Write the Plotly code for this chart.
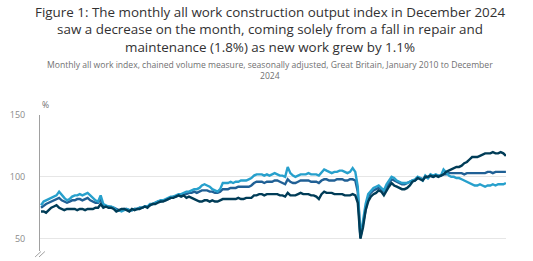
import pandas as pd
import plotly.graph_objects as go

months = pd.date_range("2010-01-01", "2024-12-01", freq="MS")

new_work = [
    77, 80, 81, 82, 83, 84, 85, 88, 85, 83, 81, 82,          # 2010
    84, 85, 85, 86, 85, 86, 87, 85, 83, 81, 80, 85,          # 2011
    78, 77, 76, 76, 75, 73, 73, 72, 73, 74, 73, 73,          # 2012
    74, 74, 75, 75, 76, 76, 78, 78, 79, 80, 81, 81,          # 2013
    82, 83, 84, 84, 85, 86, 86, 87, 88, 88, 89, 90,          # 2014
    90, 91, 93, 94, 93, 92, 90, 89, 88, 90, 95, 95,          # 2015
    95, 96, 95, 96, 96, 97, 97, 97, 98, 99, 101, 102,        # 2016
    102, 102, 101, 102, 101, 102, 103, 102, 101, 101, 100, 108,  # 2017
    103, 101, 100, 101, 102, 102, 102, 103, 102, 102, 102, 101,  # 2018
    104, 106, 105, 104, 103, 104, 104, 105, 105, 104, 103, 104,  # 2019
    107, 104, 92, 51, 64, 78, 86, 89, 91, 92, 93, 91,        # 2020
    89, 94, 97, 100, 99, 97, 96, 95, 95, 95, 96, 97,         # 2021
    98, 100, 99, 97, 101, 99, 102, 101, 102, 101, 101, 106,  # 2022
    103, 101, 100, 100, 99, 99, 98, 97, 96, 95, 94, 93,      # 2023
    93, 94, 93, 92, 93, 93, 94, 93, 94, 94, 94, 95,          # 2024
]

all_work = [
    75, 77, 78, 79, 80, 81, 82, 83, 81, 80, 79, 80,
    81, 81, 82, 82, 81, 82, 83, 81, 80, 79, 79, 82,
    77, 76, 76, 75, 75, 74, 73, 73, 74, 74, 73, 73,
    74, 74, 75, 75, 76, 76, 77, 78, 79, 80, 80, 81,
    81, 82, 83, 84, 84, 85, 85, 86, 86, 87, 87, 88,
    87, 88, 89, 89, 89, 88, 88, 87, 87, 88, 90, 90,
    90, 91, 91, 91, 92, 92, 92, 92, 92, 93, 95, 96,
    96, 96, 95, 96, 96, 96, 97, 97, 96, 95, 94, 98,
    96, 95, 95, 96, 97, 97, 97, 97, 96, 96, 96, 95,
    97, 98, 98, 97, 97, 97, 98, 98, 98, 97, 97, 98,
    98, 97, 88, 51, 62, 76, 84, 87, 89, 90, 91, 90,
    88, 92, 95, 98, 97, 96, 95, 94, 94, 95, 96, 97,
    97, 99, 99, 98, 100, 99, 101, 100, 101, 101, 101, 102,
    102, 103, 103, 103, 103, 103, 103, 102, 103, 103, 103, 103,
    103, 103, 103, 103, 104, 104, 103, 104, 104, 104, 104, 104,
]

repair_maintenance = [
    72, 72, 71, 73, 75, 76, 77, 75, 74, 73, 74, 74,
    74, 74, 73, 74, 74, 73, 74, 74, 74, 75, 75, 78,
    75, 76, 75, 75, 74, 72, 73, 74, 74, 73, 72, 74,
    73, 74, 74, 75, 76, 75, 77, 78, 78, 79, 80, 80,
    81, 82, 83, 83, 84, 85, 84, 85, 83, 84, 83, 82,
    81, 80, 80, 81, 81, 80, 81, 80, 80, 81, 82, 82,
    82, 82, 82, 82, 83, 82, 82, 83, 83, 83, 85, 85,
    86, 86, 85, 86, 86, 86, 86, 86, 85, 85, 84, 87,
    85, 85, 85, 86, 87, 86, 86, 86, 85, 85, 84, 82,
    86, 88, 87, 87, 87, 86, 86, 86, 86, 85, 85, 85,
    86, 85, 79, 50, 59, 73, 80, 84, 86, 87, 89, 88,
    85, 89, 92, 95, 93, 92, 91, 90, 90, 91, 93, 96,
    97, 99, 98, 97, 100, 100, 101, 100, 101, 100, 101, 102,
    104, 105, 106, 107, 108, 108, 109, 111, 112, 114, 116, 116,
    116, 117, 118, 119, 119, 119, 120, 119, 119, 120, 119, 117,
]

y_ticks = [50, 100, 150]

series = [
    ("All work", all_work, "#206095"),
    ("New work", new_work, "#27a0cc"),
    ("Repair and maintenance", repair_maintenance, "#003c57"),
]

PLOT_H = 136.4
PLOT_W = 473

fig = go.Figure()
for name, vals, col in series:
    fig.add_trace(go.Scatter(x=months, y=vals, name=name, mode="lines",
                             line=dict(color=col, width=2.4)))

fig.update_layout(
    width=533, height=261,
    margin=dict(l=33, r=27, t=115, b=10),
    paper_bgcolor="white", plot_bgcolor="white",
    showlegend=False,
    font=dict(family="Open Sans", color="#707071"),
)

cx = (266.5 - 33) / PLOT_W
fig.add_annotation(
    text="Figure 1: The monthly all work construction output index in December 2024<br>"
         "saw a decrease on the month, coming solely from a fall in repair and<br>"
         "maintenance (1.8%) as new work grew by 1.1%",
    xref="paper", yref="paper", x=cx, y=1 + (115 - 0.5) / PLOT_H,
    xanchor="center", yanchor="top", showarrow=False,
    font=dict(family="Open Sans", size=13.4, color="#323132"),
)
fig.add_annotation(
    text="Monthly all work index, chained volume measure, seasonally adjusted, Great Britain, January 2010 to December<br>2024",
    xref="paper", yref="paper", x=cx, y=1 + 31 / PLOT_H,
    xanchor="center", yanchor="bottom", showarrow=False,
    font=dict(family="Open Sans", size=8.6, color="#707071"),
)
fig.add_annotation(
    text="%", xref="paper", yref="paper", x=0, y=1, xanchor="left", yanchor="bottom",
    yshift=2, showarrow=False, font=dict(family="Open Sans", size=8.6, color="#707071"),
)

fig.update_xaxes(range=["2009-12-20", "2024-12-02"], showticklabels=False,
                 showgrid=False, zeroline=False, showline=False, ticks="")
fig.update_yaxes(range=[40, 150], tickvals=y_ticks, showgrid=True,
                 gridcolor="#e6e6e6", gridwidth=1, zeroline=False,
                 showline=True, linecolor="#a0a0a0", linewidth=1,
                 ticks="", ticklabelstandoff=12,
                 tickfont=dict(family="Open Sans", size=9, color="#8a8a8a"))

# axis break marks
for dx in (0, 4):
    fig.add_shape(type="line", xref="paper", yref="paper",
                  x0=(-5 + dx) / PLOT_W, y0=-6 / PLOT_H, x1=(1 + dx) / PLOT_W, y1=-0.5 / PLOT_H,
                  line=dict(color="#a0a0a0", width=1))

fig.write_html("out.html")
